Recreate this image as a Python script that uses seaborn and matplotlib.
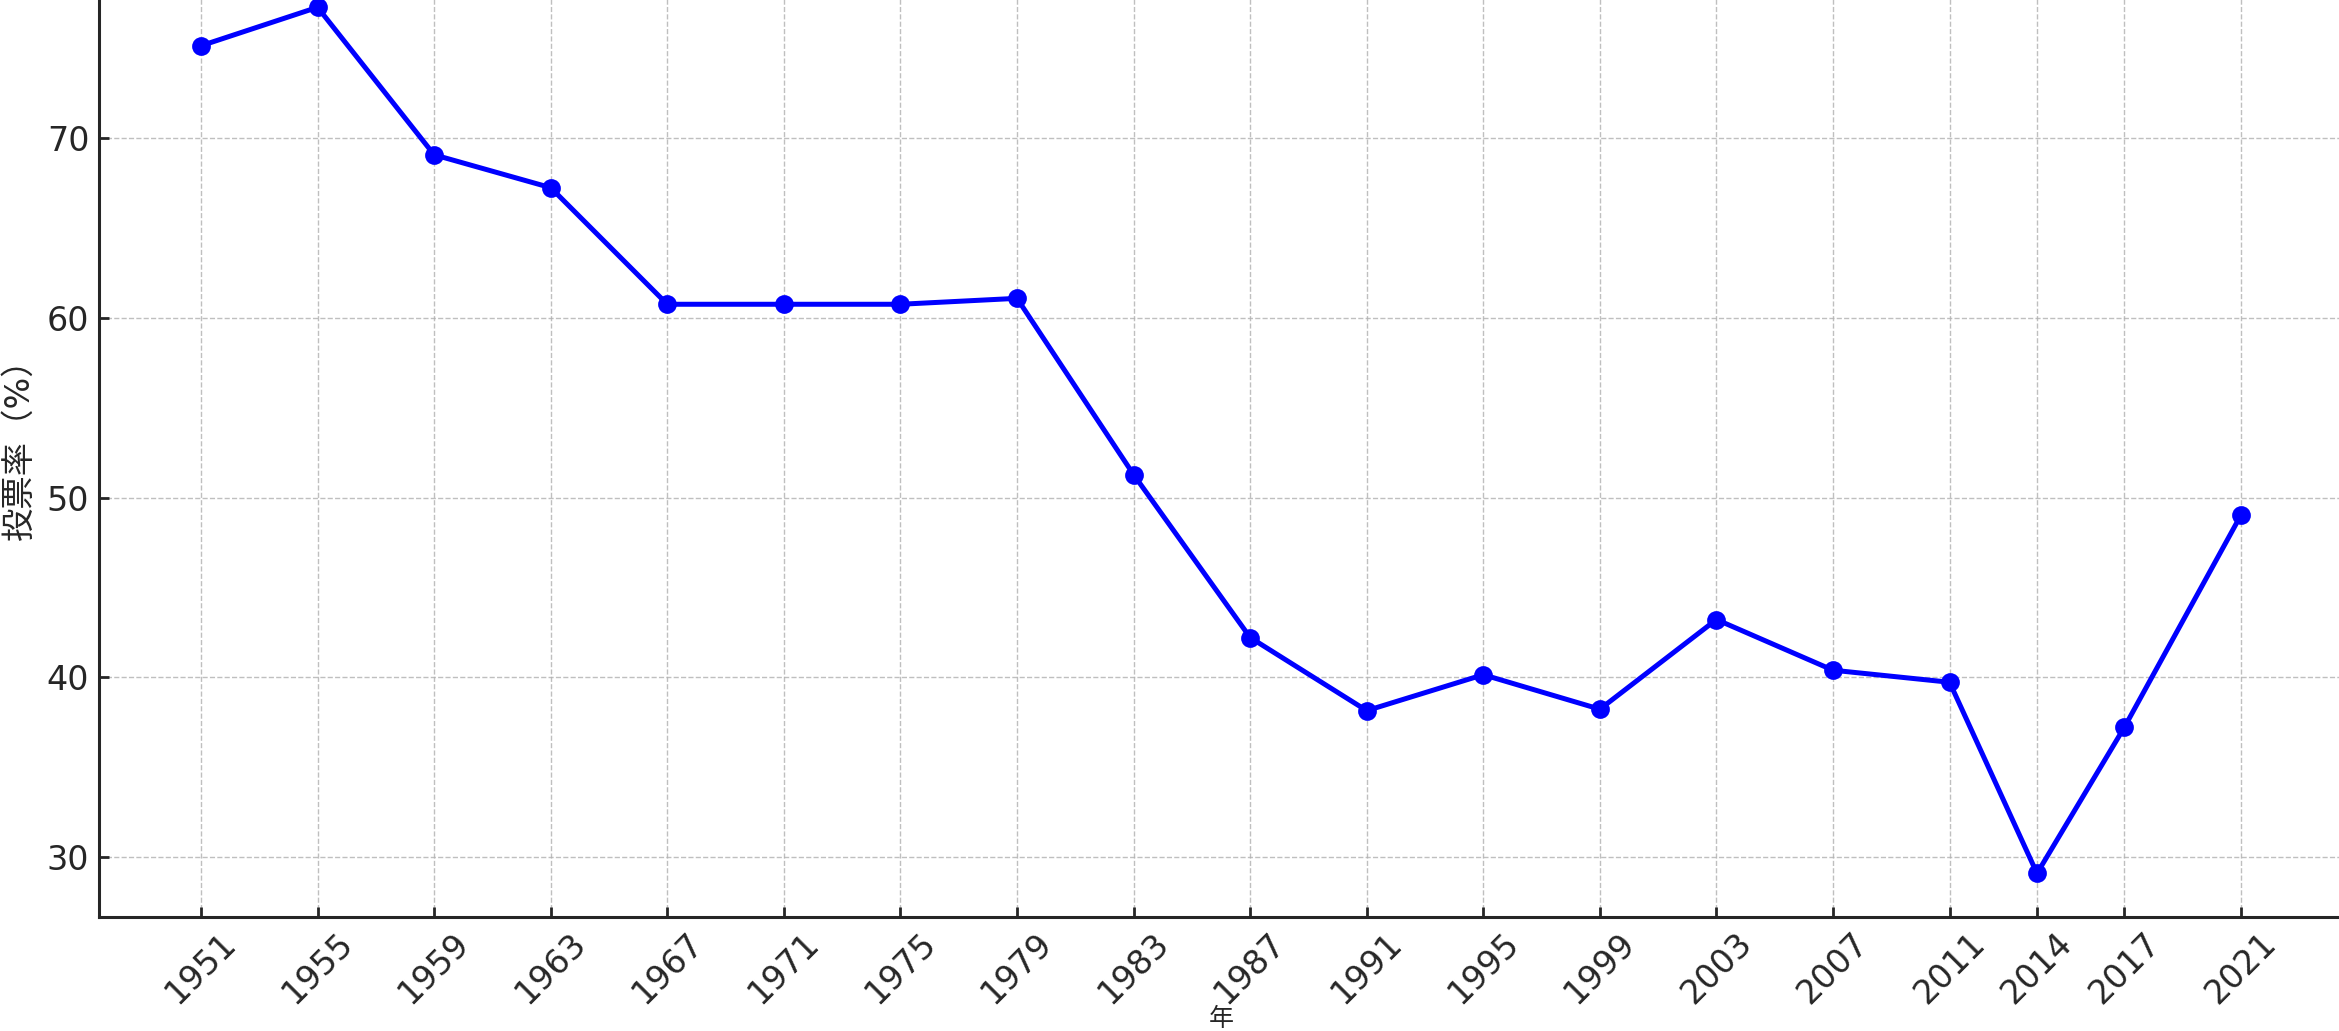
import pandas as pd
import matplotlib
matplotlib.use('Agg')
from matplotlib import pyplot as plt
import seaborn as sb

sb.set_style('ticks')
plt.rcParams['font.family'] = ['DejaVu Sans', 'Noto Sans CJK JP']

# data
years = [1951, 1955, 1959, 1963, 1967, 1971, 1975, 1979, 1983, 1987,
         1991, 1995, 1999, 2003, 2007, 2011, 2014, 2017, 2021]
turnout = [75.16, 77.3, 69.09, 67.26, 60.77, 60.77, 60.77, 61.1, 51.29, 42.22,
           38.15, 40.15, 38.23, 43.22, 40.4, 39.73, 29.09, 37.23, 49.04]
xlabel = '年'
ylabel = '投票率（%）'

df = pd.DataFrame({'year': years, 'turnout': turnout})

# plotting
W, H, DPI = 2339, 1031, 200
fig = plt.figure(figsize=(W / DPI, H / DPI), dpi=DPI)
# the reference is cropped at top and right, so the axes run past the canvas
ax = fig.add_axes([99 / W, 114.3 / H, 2244 / W, 952.7 / H])

sb.lineplot(data=df, x='year', y='turnout', ax=ax, color='blue',
            marker='o', markersize=6, markeredgecolor='blue',
            linewidth=1.8)

ax.set_xticks(years)
ax.set_xticklabels([str(y) for y in years], rotation=45)
ax.set_yticks([30, 40, 50, 60, 70])
ax.set_xlabel(xlabel, fontsize=9, labelpad=-1)
ax.set_ylabel(ylabel, fontsize=12)
ax.tick_params(direction='in', length=3.5, width=1, labelsize=12,
               colors='#262626')
ax.grid(True, linestyle='--', linewidth=0.5, color='#b0b0b0', alpha=0.8)
for s in ax.spines.values():
    s.set_linewidth(1.1)
    s.set_color('#262626')

fig.savefig('out.png', dpi=DPI)
